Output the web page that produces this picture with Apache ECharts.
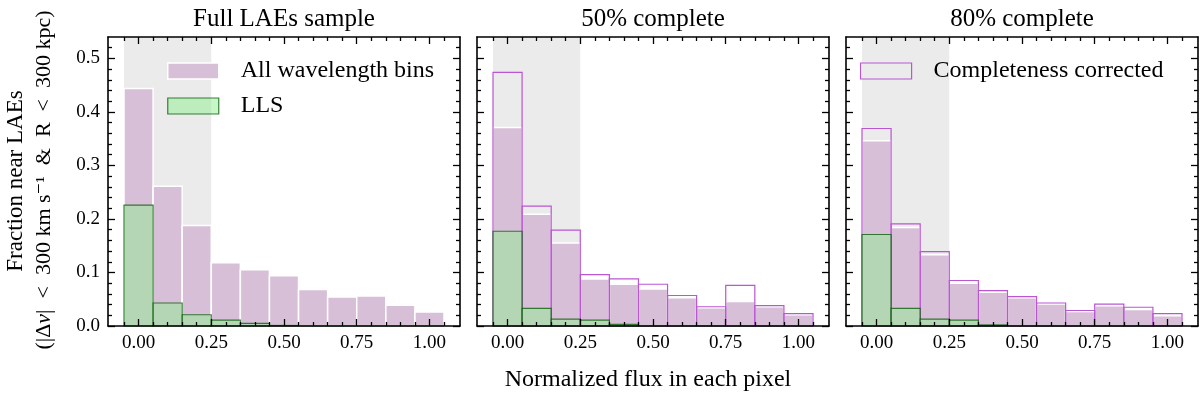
<!DOCTYPE html>
<html><head><meta charset="utf-8">
<script src="https://cdn.jsdelivr.net/npm/echarts@6/dist/echarts.min.js"></script>
<style>html,body{margin:0;padding:0;background:#fff}#c{width:1200px;height:395px}</style>
</head><body><div id="c"></div>
<script>
// ---- data ----
const binCenters = [0.0, 0.1, 0.2, 0.3, 0.4, 0.5, 0.6, 0.7, 0.8, 0.9, 1.0];
const binWidth = 0.1;
const panelTitles = ['Full LAEs sample', '50% complete', '80% complete'];
const fullAll = [0.444, 0.261, 0.188, 0.118, 0.105, 0.094, 0.068, 0.054, 0.056, 0.039, 0.026];
const fullLLS = [0.226, 0.043, 0.021, 0.011, 0.005, 0.001, 0, 0, 0, 0, 0];
const c50All  = [0.371, 0.209, 0.155, 0.088, 0.078, 0.069, 0.053, 0.034, 0.046, 0.036, 0.021];
const c50Corr = [0.474, 0.224, 0.179, 0.096, 0.088, 0.078, 0.057, 0.036, 0.076, 0.038, 0.023];
const c50LLS  = [0.177, 0.033, 0.013, 0.011, 0.003, 0, 0, 0, 0, 0, 0];
const c80All  = [0.346, 0.184, 0.133, 0.080, 0.063, 0.053, 0.041, 0.027, 0.038, 0.031, 0.019];
const c80Corr = [0.369, 0.191, 0.139, 0.085, 0.066, 0.055, 0.043, 0.029, 0.041, 0.035, 0.023];
const c80LLS  = [0.171, 0.033, 0.013, 0.011, 0.002, 0, 0, 0, 0, 0, 0];
const shadeRange = [-0.05, 0.25];
const xRange = [-0.105, 1.105];
const yRange = [0, 0.54];
const xMajorTicks = [0, 0.25, 0.5, 0.75, 1.0];
const xMinorTicks = [-0.05, 0.05, 0.1, 0.15, 0.2, 0.3, 0.35, 0.4, 0.45, 0.55, 0.6, 0.65, 0.7, 0.8, 0.85, 0.9, 0.95, 1.05];
const yMajorTicks = [0, 0.1, 0.2, 0.3, 0.4, 0.5];
const yMinorTicks = [0.02, 0.04, 0.06, 0.08, 0.12, 0.14, 0.16, 0.18, 0.22, 0.24, 0.26, 0.28, 0.32, 0.34, 0.36, 0.38, 0.42, 0.44, 0.46, 0.48, 0.52];

// ---- layout / style ----
const FONT = '"Liberation Serif", "DejaVu Serif", serif';
const panelLeft = [108, 477, 846];
const panelW = 352, panelTop = 37, panelH = 289;
const PURPLE = '#d8bfd8', ORCHID = '#ba55d3', GREENF = 'rgba(144,238,144,0.5)', GREENE = 'rgba(0,90,0,0.75)';
const panels = [
  {all: fullAll, corr: null, lls: fullLLS},
  {all: c50All, corr: c50Corr, lls: c50LLS},
  {all: c80All, corr: c80Corr, lls: c80LLS}
];

const grids = [], xAxes = [], yAxes = [], series = [];
function xAx(g, pos, ticks, len, line, label) {
  return {type: 'value', gridIndex: g, position: pos, min: xRange[0], max: xRange[1], z: 10,
    axisLine: {show: line, onZero: false, lineStyle: {color: '#000', width: 1.6}},
    axisTick: {show: true, inside: true, length: len, customValues: ticks, lineStyle: {color: '#000', width: 1.3}},
    axisLabel: {show: label, customValues: ticks, formatter: v => v.toFixed(2), margin: 8, color: '#000', fontFamily: FONT, fontSize: 19},
    splitLine: {show: false}};
}
function yAx(g, pos, ticks, len, line, label) {
  return {type: 'value', gridIndex: g, position: pos, min: yRange[0], max: yRange[1], z: 10,
    axisLine: {show: line, onZero: false, lineStyle: {color: '#000', width: 1.6}},
    axisTick: {show: true, inside: true, length: len, customValues: ticks, lineStyle: {color: '#000', width: 1.3}},
    axisLabel: {show: label, customValues: ticks, formatter: v => v.toFixed(1), margin: 8, color: '#000', fontFamily: FONT, fontSize: 19},
    splitLine: {show: false}};
}
function barSeries(p, name, values, style, z) {
  return {type: 'custom', name: name, xAxisIndex: 4 * p, yAxisIndex: 4 * p, z: z, silent: true,
    data: binCenters.map((c, i) => [c, values[i]]),
    renderItem: (params, api) => {
      const c = api.value(0), v = api.value(1);
      const a = api.coord([c - binWidth / 2, v]);
      const b = api.coord([c + binWidth / 2, 0]);
      return {type: 'rect', shape: {x: a[0], y: a[1], width: b[0] - a[0], height: b[1] - a[1]}, style: style};
    }};
}
panels.forEach((pd, p) => {
  const gMain = 2 * p, gMinor = 2 * p + 1;
  const rect = {left: panelLeft[p], top: panelTop, width: panelW, height: panelH};
  grids.push(Object.assign({}, rect), Object.assign({}, rect));
  xAxes.push(xAx(gMain, 'bottom', xMajorTicks, 7, true, true), xAx(gMain, 'top', xMajorTicks, 7, true, false));
  xAxes.push(xAx(gMinor, 'bottom', xMinorTicks, 4, false, false), xAx(gMinor, 'top', xMinorTicks, 4, false, false));
  yAxes.push(yAx(gMain, 'left', yMajorTicks, 7, true, p === 0), yAx(gMain, 'right', yMajorTicks, 7, true, false));
  yAxes.push(yAx(gMinor, 'left', yMinorTicks, 4, false, false), yAx(gMinor, 'right', yMinorTicks, 4, false, false));
  series.push({type: 'custom', name: 'shade', xAxisIndex: 4 * p, yAxisIndex: 4 * p, z: 1, silent: true,
    data: [[shadeRange[0], shadeRange[1]]],
    renderItem: (params, api) => {
      const a = api.coord([api.value(0), yRange[1]]);
      const b = api.coord([api.value(1), yRange[0]]);
      return {type: 'rect', shape: {x: a[0], y: a[1], width: b[0] - a[0], height: b[1] - a[1]}, style: {fill: '#ebebeb'}};
    }});
  series.push(barSeries(p, 'All wavelength bins', pd.all, {fill: PURPLE, stroke: '#ffffff', lineWidth: 1.5}, 2));
  if (pd.corr) series.push(barSeries(p, 'Completeness corrected', pd.corr, {fill: 'none', stroke: ORCHID, lineWidth: 1.2}, 3));
  series.push(barSeries(p, 'LLS', pd.lls, {fill: GREENF, stroke: GREENE, lineWidth: 1.2}, 4));
});

const graphic = panelTitles.map((t, p) => ({type: 'text', x: panelLeft[p] + panelW / 2, y: 19,
  style: {text: t, textAlign: 'center', textVerticalAlign: 'middle', fontFamily: FONT, fontSize: 25, fill: '#000'}}));
graphic.push({type: 'text', x: 648, y: 380,
  style: {text: 'Normalized flux in each pixel', textAlign: 'center', textVerticalAlign: 'middle', fontFamily: FONT, fontSize: 24, fill: '#000'}});
graphic.push({type: 'text', x: 16, y: 181, rotation: Math.PI / 2,
  style: {text: 'Fraction near LAEs', textAlign: 'center', textVerticalAlign: 'middle', fontFamily: FONT, fontSize: 23, fill: '#000'}});
graphic.push({type: 'text', x: 44, y: 180, rotation: Math.PI / 2,
  style: {text: '(|Δ{it|v}|  <  300 km s⁻¹  &  R  <  300 kpc)', textAlign: 'center', textVerticalAlign: 'middle', fontFamily: FONT, fontSize: 22, fill: '#000',
    rich: {it: {fontFamily: FONT, fontSize: 22, fontStyle: 'italic', fill: '#000'}}}});

const legendBase = {orient: 'vertical', padding: 0, itemWidth: 51, itemHeight: 16, itemGap: 11, selectedMode: false, icon: 'rect',
  textStyle: {fontFamily: FONT, fontSize: 24, lineHeight: 24, color: '#000', padding: [0, 0, 0, 17]}};
const legend = [
  Object.assign({}, legendBase, {left: 167, top: 59, data: [
    {name: 'All wavelength bins', itemStyle: {color: PURPLE, borderColor: '#ffffff', borderWidth: 1.5}},
    {name: 'LLS', itemStyle: {color: GREENF, borderColor: GREENE, borderWidth: 1.2}}]}),
  Object.assign({}, legendBase, {left: 860, top: 59, data: [
    {name: 'Completeness corrected', itemStyle: {color: 'rgba(0,0,0,0)', borderColor: ORCHID, borderWidth: 1.2}}]})
];

const chart = echarts.init(document.getElementById('c'), null, {renderer: 'canvas'});
chart.setOption({animation: false, backgroundColor: '#fff', grid: grids, xAxis: xAxes, yAxis: yAxes,
  series: series, legend: legend, graphic: graphic, tooltip: {show: false}});
</script></body></html>
